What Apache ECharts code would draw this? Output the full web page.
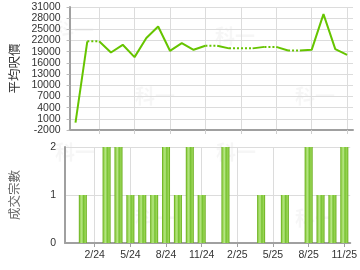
<!DOCTYPE html>
<html><head><meta charset="utf-8">
<script src="https://cdn.jsdelivr.net/npm/echarts@6/dist/echarts.min.js"></script>
<style>html,body{margin:0;padding:0;background:#fff}#c{width:360px;height:270px}</style>
</head><body><div id="c"></div>
<script>
const months = ['12/23','1/24','2/24','3/24','4/24','5/24','6/24','7/24','8/24','9/24','10/24','11/24',
                '12/24','1/25','2/25','3/25','4/25','5/25','6/25','7/25','8/25','9/25','10/25','11/25'];
// average price per sq ft; null = no deal that month (chart carries previous value, dotted)
const avgPrice = [0, 21800, null, 18800, 20860, 17550, 22660, 25780, 19250, 21320, 19520, 20590,
                  null, 19900, null, null, 20300, null, 19330, null, 19500, 29100, 19700, 18170];
const dealCount = [0, 1, 0, 2, 2, 1, 1, 1, 2, 1, 2, 1, 0, 2, 0, 0, 1, 0, 1, 0, 2, 1, 1, 2];
const priceAxis = {min: -2000, max: 31000, step: 3000};
const countAxis = {min: 0, max: 2, step: 1};
const priceTitle = '平均呎價';
const countTitle = '成交宗數';
const watermark = '科一';

const FONT = 'Liberation Sans';
const GREEN = '#66c400';
const showIdx = (i) => i % 3 === 2;

// carry forward values for months without deals
const shown = [];
avgPrice.forEach((v, i) => { shown.push(v != null ? v : shown[i - 1]); });
// build runs of solid / dotted segments
const lineSeries = [];
let runStart = 0, runType = avgPrice[1] != null ? 'solid' : 'dotted';
function pushRun(a, b, type) {
  const data = shown.map((v, i) => (i >= a && i <= b) ? v : null);
  lineSeries.push({type: 'line', xAxisIndex: 0, yAxisIndex: 0, data, symbol: 'none',
    connectNulls: false, lineStyle: {color: GREEN, width: 2, type: type === 'solid' ? 'solid' : [2, 2]},
    z: 3, silent: true});
}
for (let i = 1; i < shown.length; i++) {
  const t = avgPrice[i] != null ? 'solid' : 'dotted';
  if (t !== runType) { pushRun(runStart, i - 1, runType); runStart = i - 1; runType = t; }
}
pushRun(runStart, shown.length - 1, runType);

const axisLineStyle = {show: true, onZero: false, lineStyle: {color: '#a0a0a0', width: 2}};
const gridLine = {lineStyle: {color: '#dcdcdc', width: 1}};
const labelStyle = {fontFamily: FONT, fontSize: 10.5, color: '#333'};
const plainNum = (v) => String(v);

const chart = echarts.init(document.getElementById('c'), null, {renderer: 'canvas'});
const wm = [];
[[75,31],[156,97],[236,37],[316,97],[76,153],[156,219],[237,153],[316,219]].forEach(p => {
  wm.push({type: 'text', left: p[0] - 21, top: p[1] - 11, z: 0, silent: true,
    style: {text: watermark, font: 'bold 20px "Noto Sans CJK TC"', fill: 'rgba(0,0,0,0.035)'}});
});
chart.setOption({
  animation: false,
  graphic: wm,
  grid: [
    {left: 65, right: 7, top: 7, height: 123},
    {left: 65, right: 7, top: 147, height: 96}
  ],
  xAxis: [
    {type: 'category', gridIndex: 0, data: months, boundaryGap: true,
     axisLine: axisLineStyle,
     axisTick: {show: true, interval: showIdx, alignWithLabel: true, length: 4, lineStyle: {color: '#cfcfcf'}},
     axisLabel: {show: false, interval: showIdx},
     splitLine: Object.assign({show: true, interval: showIdx, alignWithLabel: true}, gridLine)},
    {type: 'category', gridIndex: 1, data: months, boundaryGap: true,
     axisLine: axisLineStyle,
     axisTick: {show: true, interval: showIdx, alignWithLabel: true, length: 4, lineStyle: {color: '#a0a0a0'}},
     axisLabel: Object.assign({interval: showIdx, margin: 7}, labelStyle),
     splitLine: Object.assign({show: true, interval: showIdx, alignWithLabel: true}, gridLine)}
  ],
  yAxis: [
    {type: 'value', gridIndex: 0, min: priceAxis.min, max: priceAxis.max, interval: priceAxis.step,
     axisLine: axisLineStyle,
     axisTick: {show: true, length: 3, lineStyle: {color: '#bbb'}},
     axisLabel: Object.assign({margin: 9, formatter: plainNum}, labelStyle),
     splitLine: gridLine,
     name: priceTitle, nameLocation: 'middle', nameGap: 44, nameRotate: 90,
     nameTextStyle: {fontFamily: 'Noto Sans CJK TC', fontSize: 12.5, color: '#333'}},
    {type: 'value', gridIndex: 1, min: countAxis.min, max: countAxis.max, interval: countAxis.step,
     axisLine: axisLineStyle,
     axisTick: {show: false},
     axisLabel: Object.assign({margin: 9, formatter: plainNum}, labelStyle),
     splitLine: gridLine,
     name: countTitle, nameLocation: 'middle', nameGap: 44, nameRotate: 90,
     nameTextStyle: {fontFamily: 'Noto Sans CJK TC', fontSize: 12.5, color: '#666'}}
  ],
  series: lineSeries.concat([{
    type: 'bar', xAxisIndex: 1, yAxisIndex: 1, data: dealCount, barWidth: 8, silent: true,
    itemStyle: {color: new echarts.graphic.LinearGradient(0, 0, 1, 0, [
      {offset: 0, color: '#5da60c'}, {offset: 0.18, color: '#9ad657'},
      {offset: 0.38, color: '#b6e684'}, {offset: 0.58, color: '#78c232'},
      {offset: 0.82, color: '#9ad657'}, {offset: 1, color: '#5da60c'}])}
  }])
});
</script></body></html>
